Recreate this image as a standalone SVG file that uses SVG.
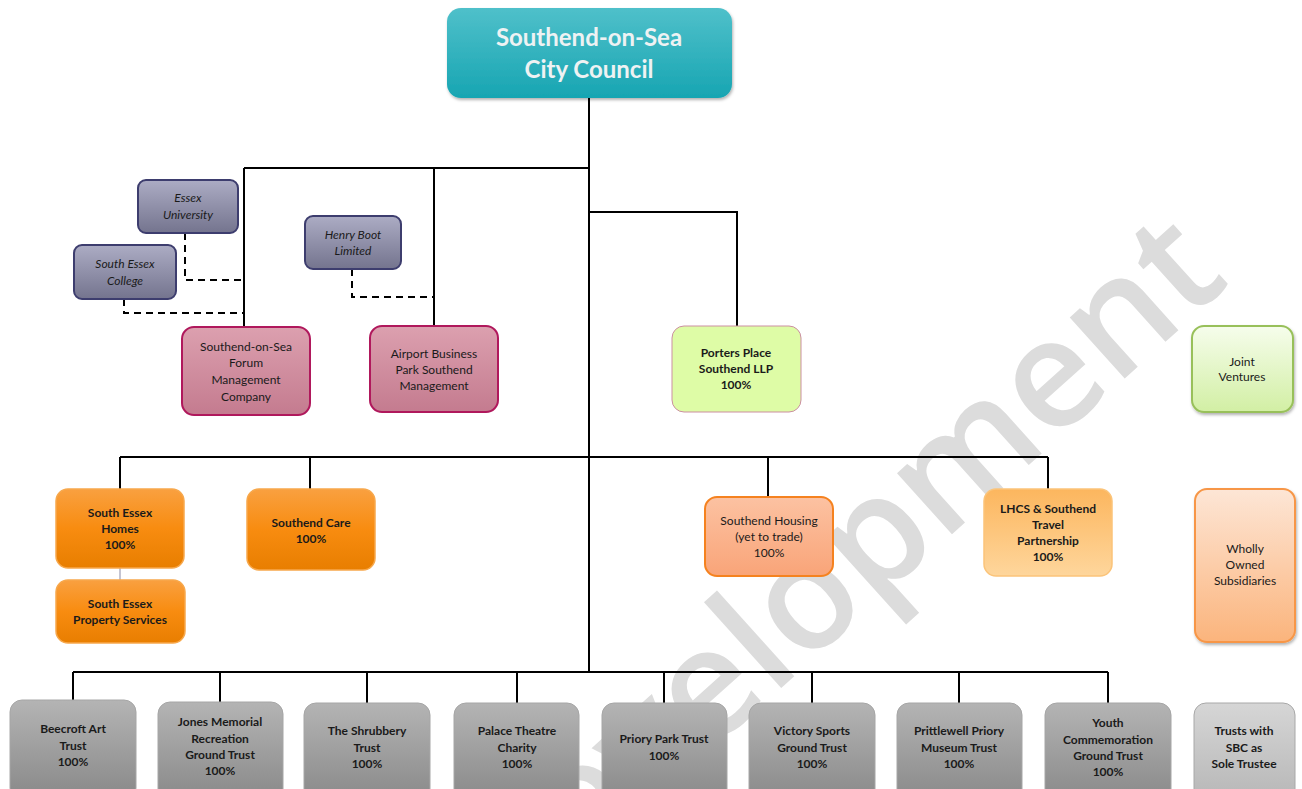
<svg xmlns="http://www.w3.org/2000/svg" width="1302" height="789" viewBox="0 0 1302 789">
<defs>
<linearGradient id="gTeal" x1="0" y1="0" x2="0" y2="1"><stop offset="0" stop-color="#4fc0ca"/><stop offset="1" stop-color="#17a5b2"/></linearGradient>
<linearGradient id="gBlue" x1="0" y1="0" x2="0" y2="1"><stop offset="0" stop-color="#acacc4"/><stop offset="1" stop-color="#74748e"/></linearGradient>
<linearGradient id="gPink" x1="0" y1="0" x2="0" y2="1"><stop offset="0" stop-color="#dca0af"/><stop offset="1" stop-color="#c47b8f"/></linearGradient>
<linearGradient id="gOrange" x1="0" y1="0" x2="0" y2="1"><stop offset="0" stop-color="#f9a040"/><stop offset="0.5" stop-color="#f88c10"/><stop offset="1" stop-color="#e87e00"/></linearGradient>
<linearGradient id="gSalmon" x1="0" y1="0" x2="0" y2="1"><stop offset="0" stop-color="#fcc2a2"/><stop offset="1" stop-color="#f9a478"/></linearGradient>
<linearGradient id="gLhcs" x1="0" y1="0" x2="0" y2="1"><stop offset="0" stop-color="#fcb65e"/><stop offset="1" stop-color="#fed69c"/></linearGradient>
<linearGradient id="gWholly" x1="0" y1="0" x2="0" y2="1"><stop offset="0" stop-color="#fde6d6"/><stop offset="1" stop-color="#fbb47c"/></linearGradient>
<linearGradient id="gJoint" x1="0" y1="0" x2="0" y2="1"><stop offset="0" stop-color="#f6fdec"/><stop offset="1" stop-color="#d2efa4"/></linearGradient>
<linearGradient id="gGray" x1="0" y1="0" x2="0" y2="1"><stop offset="0" stop-color="#b4b4b4"/><stop offset="1" stop-color="#888888"/></linearGradient>
<linearGradient id="gLight" x1="0" y1="0" x2="0" y2="1"><stop offset="0" stop-color="#d6d6d6"/><stop offset="1" stop-color="#b6b6b6"/></linearGradient>
<filter id="sh" x="-10%" y="-10%" width="130%" height="130%"><feDropShadow dx="1" dy="2" stdDeviation="1.5" flood-color="#000" flood-opacity="0.3"/></filter>
</defs>
<style>
text{font-family:Lato,"Liberation Sans",sans-serif;font-size:12px;fill:#1a1a1a;text-anchor:middle}
.b{font-weight:bold}
.i{font-style:italic}
.top{fill:#eef2f3;font-size:24px;font-weight:bold}
.wm{fill:#dcdcdc;font-size:152px;font-weight:600;text-anchor:end;font-family:"Open Sans","Liberation Sans",sans-serif}
.ln{stroke:#000;stroke-width:2;fill:none}
.dash{stroke:#000;stroke-width:2;fill:none;stroke-dasharray:7 5}
.teal{fill:url(#gTeal)}
.blue{fill:url(#gBlue);stroke:#3d3d6e;stroke-width:2}
.pink{fill:url(#gPink);stroke:#b0185c;stroke-width:2}
.orange{fill:url(#gOrange);stroke:#f7a84c;stroke-width:1.5}
.salmon{fill:url(#gSalmon);stroke:#f5821f;stroke-width:2}
.lhcs{fill:url(#gLhcs);stroke:#fbc47a;stroke-width:1.5}
.wholly{fill:url(#gWholly);stroke:#f79646;stroke-width:2}
.joint{fill:url(#gJoint);stroke:#98c05a;stroke-width:2}
.porters{fill:#defca6;stroke:#cc8fa2;stroke-width:1}
.gray{fill:url(#gGray);stroke:#a6a6a6;stroke-width:1}
.light{fill:url(#gLight);stroke:#a8a8a8;stroke-width:1}
</style>
<rect width="1302" height="789" fill="#fff"/>
<text class="wm" transform="translate(1232,282) rotate(-42)">evelopment</text>
<g id="connectors">
<path class="ln" d="M589 98V672"/>
<path class="ln" d="M244 168H589M244 168V327M434 168V326"/>
<path class="ln" d="M589 212H737V326"/>
<path class="ln" d="M120 457H1048M120 457V489M310 457V489M768 457V497M1048 457V489"/>
<path class="ln" d="M73 672H1108M73 672V700M220 672V702M367 672V703M517 672V703M664 672V703M812 672V703M959 672V703M1108 672V703"/>
<path d="M120 568V580" stroke="#8a8aa6" stroke-width="1"/>
<path class="dash" d="M185 233V280H244"/>
<path class="dash" d="M124 299V313H244"/>
<path class="dash" d="M352 269V297H434"/>
</g>
<g id="council"><rect class="teal" x="447" y="8" width="285" height="90" rx="14" filter="url(#sh)"/><text class="top" x="589" y="46">Southend-on-Sea</text><text class="top" x="589" y="78">City Council</text></g>
<g id="essex-university"><rect class="blue" x="138" y="180" width="100" height="53" rx="8"/><text class="i" x="188" y="202">Essex</text><text class="i" x="188" y="219">University</text></g>
<g id="south-essex-college"><rect class="blue" x="74" y="245" width="102" height="54" rx="8"/><text class="i" x="125" y="268">South Essex</text><text class="i" x="125" y="285">College</text></g>
<g id="henry-boot"><rect class="blue" x="305" y="216" width="96" height="53" rx="8"/><text class="i" x="353" y="239">Henry Boot</text><text class="i" x="353" y="255">Limited</text></g>
<g id="forum"><rect class="pink" x="182" y="327" width="128" height="88" rx="12"/><text x="246" y="351">Southend-on-Sea</text><text x="246" y="367">Forum</text><text x="246" y="384">Management</text><text x="246" y="401">Company</text></g>
<g id="airport"><rect class="pink" x="370" y="326" width="128" height="86" rx="12"/><text x="434" y="358">Airport Business</text><text x="434" y="374">Park Southend</text><text x="434" y="390">Management</text></g>
<g id="porters"><rect class="porters" x="672" y="326" width="129" height="86" rx="12"/><text class="b" x="736" y="357">Porters Place</text><text class="b" x="736" y="373">Southend LLP</text><text class="b" x="736" y="389">100%</text></g>
<g id="joint-ventures"><rect class="joint" x="1192" y="326" width="101" height="86" rx="12" filter="url(#sh)"/><text x="1242" y="366">Joint</text><text x="1242" y="381">Ventures</text></g>
<g id="south-essex-homes"><rect class="orange" x="56" y="489" width="128" height="79" rx="12"/><text class="b" x="120" y="517">South Essex</text><text class="b" x="120" y="533">Homes</text><text class="b" x="120" y="549">100%</text></g>
<g id="south-essex-property"><rect class="orange" x="56" y="580" width="129" height="63" rx="12"/><text class="b" x="120" y="608">South Essex</text><text class="b" x="120" y="624">Property Services</text></g>
<g id="southend-care"><rect class="orange" x="247" y="489" width="128" height="81" rx="12"/><text class="b" x="311" y="527">Southend Care</text><text class="b" x="311" y="543">100%</text></g>
<g id="southend-housing"><rect class="salmon" x="705" y="497" width="128" height="79" rx="12"/><text x="769" y="525">Southend Housing</text><text x="769" y="541">(yet to trade)</text><text x="769" y="557">100%</text></g>
<g id="lhcs"><rect class="lhcs" x="984" y="489" width="128" height="87" rx="12"/><text class="b" x="1048" y="513">LHCS &amp; Southend</text><text class="b" x="1048" y="529">Travel</text><text class="b" x="1048" y="545">Partnership</text><text class="b" x="1048" y="561">100%</text></g>
<g id="wholly-owned"><rect class="wholly" x="1195" y="489" width="100" height="153" rx="12" filter="url(#sh)"/><text x="1245" y="553">Wholly</text><text x="1245" y="569">Owned</text><text x="1245" y="585">Subsidiaries</text></g>
<g id="beecroft"><rect class="gray" x="10" y="700" width="126" height="100" rx="12"/><text class="b" x="73" y="733">Beecroft  Art</text><text class="b" x="73" y="750">Trust</text><text class="b" x="73" y="766">100%</text></g>
<g id="jones"><rect class="gray" x="158" y="702" width="125" height="100" rx="12"/><text class="b" x="220" y="726">Jones Memorial</text><text class="b" x="220" y="743">Recreation</text><text class="b" x="220" y="759">Ground Trust</text><text class="b" x="220" y="775">100%</text></g>
<g id="shrubbery"><rect class="gray" x="304" y="703" width="126" height="100" rx="12"/><text class="b" x="367" y="735">The Shrubbery</text><text class="b" x="367" y="752">Trust</text><text class="b" x="367" y="768">100%</text></g>
<g id="palace"><rect class="gray" x="454" y="703" width="125" height="100" rx="12"/><text class="b" x="517" y="735">Palace Theatre</text><text class="b" x="517" y="752">Charity</text><text class="b" x="517" y="768">100%</text></g>
<g id="priory-park"><rect class="gray" x="602" y="703" width="125" height="100" rx="12"/><text class="b" x="664" y="743">Priory Park Trust</text><text class="b" x="664" y="760">100%</text></g>
<g id="victory"><rect class="gray" x="749" y="703" width="126" height="100" rx="12"/><text class="b" x="812" y="735">Victory Sports</text><text class="b" x="812" y="752">Ground Trust</text><text class="b" x="812" y="768">100%</text></g>
<g id="prittlewell"><rect class="gray" x="897" y="703" width="125" height="100" rx="12"/><text class="b" x="959" y="735">Prittlewell Priory</text><text class="b" x="959" y="752">Museum Trust</text><text class="b" x="959" y="768">100%</text></g>
<g id="youth"><rect class="gray" x="1045" y="703" width="126" height="100" rx="12"/><text class="b" x="1108" y="727">Youth</text><text class="b" x="1108" y="744">Commemoration</text><text class="b" x="1108" y="760">Ground Trust</text><text class="b" x="1108" y="776">100%</text></g>
<g id="trusts-sbc"><rect class="light" x="1194" y="703" width="101" height="100" rx="12"/><text class="b" x="1244" y="735">Trusts with</text><text class="b" x="1244" y="752">SBC as</text><text class="b" x="1244" y="768">Sole Trustee</text></g>
</svg>
